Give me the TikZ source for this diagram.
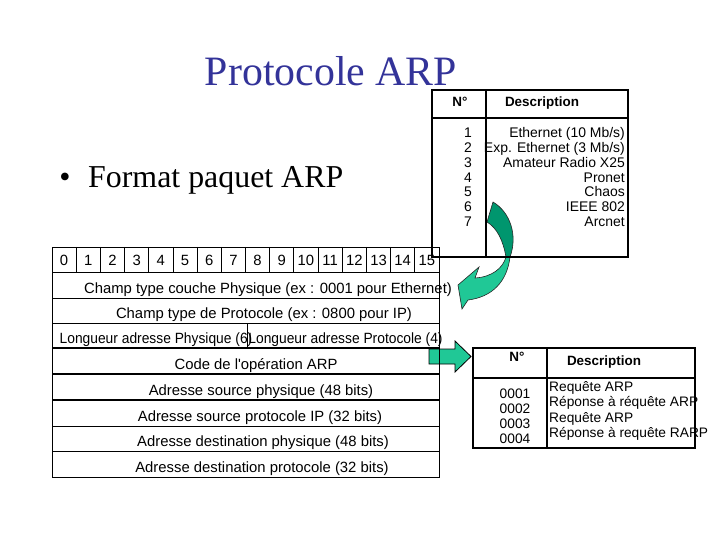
\documentclass[tikz,border=0pt]{standalone}
\usepackage{fontspec}
\setmainfont{Liberation Serif}
\setsansfont{Liberation Sans}
\definecolor{titleblue}{RGB}{51,51,153}
\definecolor{darkgreen}{RGB}{0,150,110}
\definecolor{lightgreen}{RGB}{32,200,150}
\begin{document}
\begin{tikzpicture}[x=1bp,y=-1bp,
  celltxt/.style={font=\sffamily\fontsize{14.9}{16}\selectfont, inner sep=0pt, anchor=base},
  toptxt/.style={font=\sffamily\fontsize{14}{15}\selectfont, inner sep=0pt},
  bottxt/.style={font=\sffamily\fontsize{13.8}{15}\selectfont, inner sep=0pt},
  headtxt/.style={font=\sffamily\bfseries\fontsize{13.5}{15}\selectfont, inner sep=0pt, anchor=base},
  thinline/.style={line width=0.8bp, black},
  thickline/.style={line width=1.7bp, black},
  arrowedge/.style={draw=black!85, line width=0.6bp}
]
\useasboundingbox (0,0) rectangle (720,540);

% title and bullet
\node[font=\rmfamily\fontsize{42}{44}\selectfont, text=titleblue, anchor=base, inner sep=0pt] (title) at (331,86) {Protocole ARP};
\node[font=\rmfamily\fontsize{32}{34}\selectfont, anchor=base, inner sep=0pt] (bullet) at (65,188) {\textbullet};
\node[font=\rmfamily\fontsize{32}{34}\selectfont, anchor=base west, inner sep=0pt] (fmt) at (88,188) {Format paquet ARP};

% arrows (drawn beneath the tables)
\filldraw[fill=darkgreen, arrowedge] (493,202) .. controls (510,212) and (518,235) .. (510,257) -- (506,257) .. controls (503,240) and (497,228) .. (487,222) -- cycle;
\filldraw[fill=lightgreen, arrowedge] (510,257) .. controls (507,282) and (492,297) .. (468,300) -- (462,309) -- (458,285) -- (479,267) -- (475,278) .. controls (492,277) and (503,268) .. (506,257) -- cycle;
\filldraw[fill=lightgreen, draw=black, line width=0.8bp] (429,349) -- (455,349) -- (455,341) -- (471,356.5) -- (455,372) -- (455,364) -- (429,364) -- cycle;

% packet table
\draw[thinline] (52,247) rectangle (439,477);
\foreach \y in {272,298,323,426,451} \draw[thinline] (52,\y) -- (439,\y);
\foreach \y in {348,374,400} \draw[thickline] (52,\y) -- (439,\y);
\foreach \i in {1,...,15} \draw[thinline] ({52+24.1875*\i},247) -- ({52+24.1875*\i},272);
\draw[thinline] (247,323) -- (247,348);
\foreach \i in {0,...,15} \node[celltxt] (bit\i) at ({52+24.1875*(\i+0.5)},266) {\i};
\node[celltxt] (r1) at (268,293) {Champ type couche Physique (ex : 0001 pour Ethernet)};
\node[celltxt] (r2) at (264,318.5) {Champ type de Protocole (ex : 0800 pour IP)};
\node[celltxt] (r3a) at (156,343) {\scalebox{0.93}[1]{Longueur adresse Physique (6)}};
\node[celltxt] (r3b) at (345.5,343) {\scalebox{0.93}[1]{Longueur adresse Protocole (4)}};
\node[celltxt] (r4) at (256,369.5) {Code de l\textquotesingle op\'eration ARP};
\node[celltxt] (r5) at (261,395.5) {Adresse source physique (48 bits)};
\node[celltxt] (r6) at (260,421.5) {Adresse source protocole IP (32 bits)};
\node[celltxt] (r7) at (263,446.5) {Adresse destination physique (48 bits)};
\node[celltxt] (r8) at (262,472.5) {Adresse destination protocole (32 bits)};

% top table (hardware types)
\draw[thickline] (432,90) rectangle (628,257);
\draw[thickline] (432,118) -- (628,118);
\draw[thickline] (486,90) -- (486,257);
\node[headtxt] (thn) at (460,107) {N°};
\node[headtxt] (thd) at (542,107) {Description};
\foreach \n/\t [count=\k from 0] in {1/{Ethernet (10 Mb/s)},2/{Exp. Ethernet (3 Mb/s)},3/{Amateur Radio X25},4/{Pronet},5/{Chaos},6/{IEEE 802},7/{Arcnet}}{
  \node[toptxt, anchor=base] (tn\n) at (468,{138+14.75*\k}) {\n};
  \node[toptxt, anchor=base east] (td\n) at (625,{138+14.75*\k}) {\t};
}

% bottom table (operation codes)
\draw[thickline] (473,348) rectangle (695,448);
\draw[thickline] (473,378) -- (695,378);
\draw[thickline] (547,348) -- (547,448);
\node[headtxt] (bhn) at (517,361) {N°};
\node[headtxt] (bhd) at (604,365) {Description};
\foreach \n/\t [count=\k from 0] in {0001/{Requête ARP},0002/{Réponse à réquête ARP},0003/{Requête ARP},0004/{Réponse à requête RARP}}{
  \node[bottxt, anchor=base] (bn\n) at (515,{398+15.2*\k}) {\n};
  \node[bottxt, anchor=base west] (bd\n) at (549,{391.5+15.3*\k}) {\t};
}
\end{tikzpicture}
\end{document}
